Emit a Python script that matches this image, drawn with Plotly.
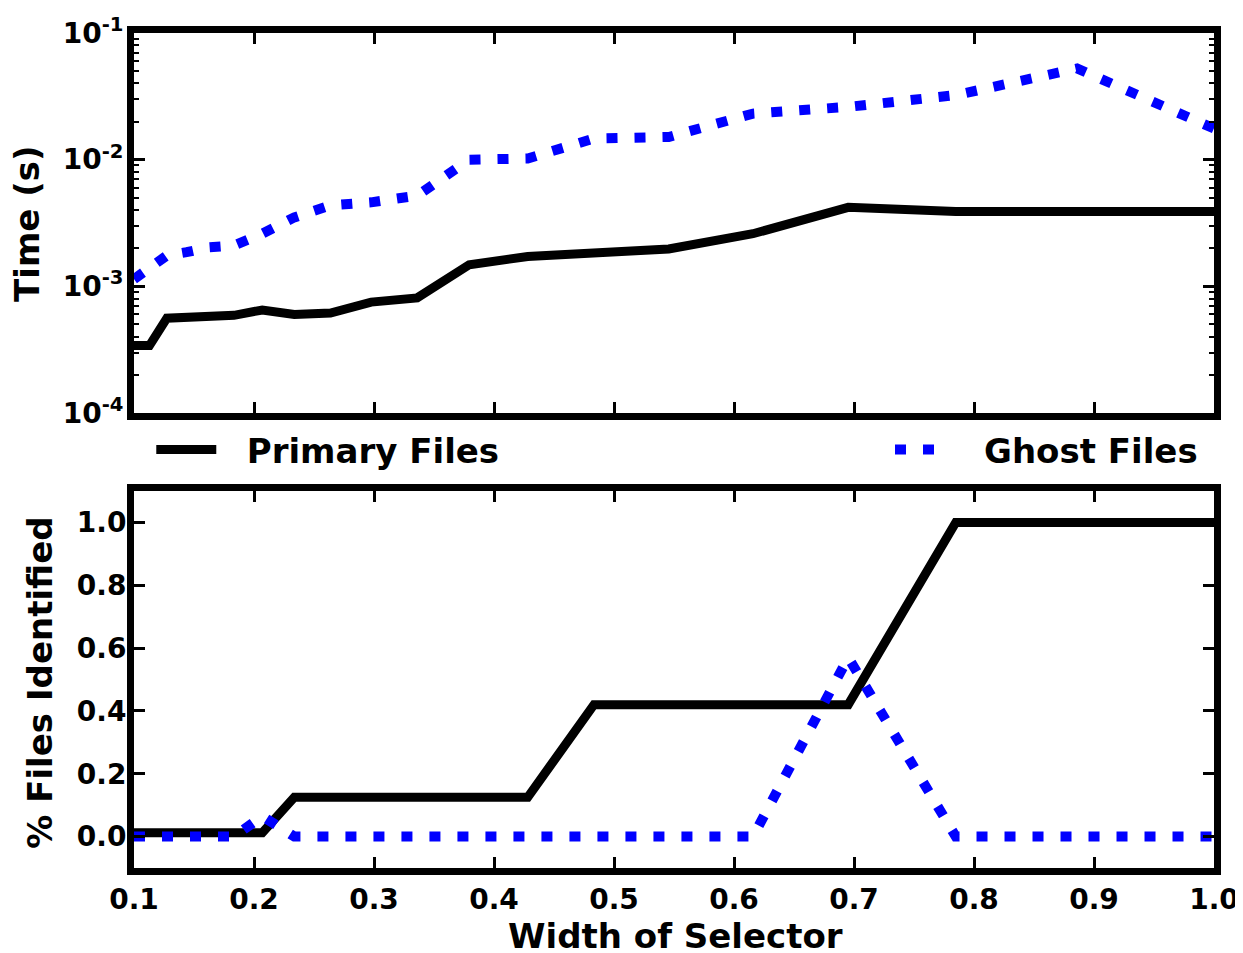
import plotly.graph_objects as go
from plotly.subplots import make_subplots

# Width of selector (x positions)
width = [0.1, 0.1129, 0.1274, 0.1438, 0.1624, 0.1833, 0.2069, 0.2336, 0.2637, 0.2976,
         0.336, 0.3793, 0.4281, 0.4833, 0.5456, 0.6158, 0.6952, 0.7848, 0.8859, 1.0]

# Top panel: time (s)
time_primary = [3.4e-4, 3.4e-4, 5.6e-4, 5.7e-4, 6.0e-4, 5.9e-4, 6.5e-4, 6.0e-4, 6.15e-4, 7.5e-4,
                8.1e-4, 1.48e-3, 1.72e-3, 1.85e-3, 1.97e-3, 2.6e-3, 4.2e-3, 3.9e-3, 3.9e-3, 3.9e-3]
time_ghost = [1.14e-3, 1.41e-3, 1.75e-3, 1.86e-3, 2.03e-3, 2.1e-3, 2.6e-3, 3.5e-3, 4.35e-3, 4.6e-3,
              5.2e-3, 1.0e-2, 1.02e-2, 1.47e-2, 1.51e-2, 2.31e-2, 2.61e-2, 3.23e-2, 5.25e-2, 1.76e-2]

# Bottom panel: fraction of files identified
ident_primary = [0.0125, 0.0125, 0.0125, 0.0125, 0.0125, 0.0125, 0.0125, 0.125, 0.125, 0.125,
                 0.125, 0.125, 0.125, 0.42, 0.42, 0.42, 0.42, 1.0, 1.0, 1.0]
ident_ghost = [0.0, 0.0, 0.0, 0.0, 0.0, 0.0, 0.065, 0.0, 0.0, 0.0,
               0.0, 0.0, 0.0, 0.0, 0.0, 0.0, 0.57, 0.0, 0.0, 0.0]

x_ticks = [0.1, 0.2, 0.3, 0.4, 0.5, 0.6, 0.7, 0.8, 0.9, 1.0]
y1_ticks = [1e-4, 1e-3, 1e-2, 1e-1]
y1_ticktext = ["10<sup>-4</sup>", "10<sup>-3</sup>", "10<sup>-2</sup>", "10<sup>-1</sup>"]
y2_ticks = [0.0, 0.2, 0.4, 0.6, 0.8, 1.0]

FONT = "DejaVu Sans"
BLACK_W = 9
BLUE_W = 10
BLUE_DASH = "11px,17px"

fig = make_subplots(rows=2, cols=1, shared_xaxes=False)

fig.add_trace(go.Scatter(x=width, y=time_primary, mode="lines", name="\u2002\u2005Primary Files",
                         line=dict(color="black", width=BLACK_W), legend="legend"), row=1, col=1)
fig.add_trace(go.Scatter(x=width, y=time_ghost, mode="lines", name="\u2003Ghost Files",
                         line=dict(color="#0000ff", width=BLUE_W, dash=BLUE_DASH), legend="legend2"), row=1, col=1)
fig.add_trace(go.Scatter(x=width, y=ident_primary, mode="lines", showlegend=False,
                         line=dict(color="black", width=BLACK_W)), row=2, col=1)
fig.add_trace(go.Scatter(x=width, y=ident_ghost, mode="lines", showlegend=False,
                         line=dict(color="#0000ff", width=BLUE_W, dash=BLUE_DASH)), row=2, col=1)

tickfont = dict(family=FONT, size=28, color="black", weight="bold")
titlefont = dict(family=FONT, size=34, color="black", weight="bold")
axis_common = dict(showline=True, linecolor="black", linewidth=7, mirror="ticks",
                   ticks="inside", ticklen=11, tickwidth=3, tickcolor="black",
                   showgrid=False, zeroline=False, tickfont=tickfont, automargin=False,
                   ticklabeloverflow="allow")

fig.update_xaxes(range=[0.1, 1.0], tickvals=x_ticks, showticklabels=False,
                 domain=[0, 1], **axis_common, row=1, col=1)
fig.update_xaxes(range=[0.1, 1.0], tickvals=x_ticks, tickformat=".1f",
                 domain=[0, 1], **axis_common, row=2, col=1)
fig.update_yaxes(type="log", range=[-4, -1], tickvals=y1_ticks, ticktext=y1_ticktext,
                 domain=[0.545, 1.0], ticklabelstandoff=-2,
                 minor=dict(ticks="inside", ticklen=5, tickwidth=1.5, tickcolor="black", showgrid=False,
                            dtick="D1"),
                 **axis_common, row=1, col=1)
fig.update_yaxes(range=[-0.1, 1.1], tickvals=y2_ticks, tickformat=".1f",
                 domain=[0, 0.4515], ticklabelstandoff=-5,
                 **axis_common, row=2, col=1)

# Axis titles
fig.add_annotation(text="Time (s)", xref="paper", yref="paper", x=-0.0991, y=0.7725,
                   xanchor="center", yanchor="middle", textangle=-90, showarrow=False, font=titlefont)
fig.add_annotation(text="% Files Identified", xref="paper", yref="paper", x=-0.087, y=0.222,
                   xanchor="center", yanchor="middle", textangle=-90, showarrow=False, font=titlefont)
fig.add_annotation(text="Width of Selector", xref="paper", yref="paper", x=0.501, y=-0.082,
                   xanchor="center", yanchor="middle", showarrow=False, font=titlefont)

legend_font = dict(family=FONT, size=34, color="black", weight="bold")
fig.update_layout(
    width=1235, height=945,
    margin=dict(l=126, r=29, t=25, b=85, autoexpand=False),
    paper_bgcolor="white", plot_bgcolor="white",
    font=dict(family=FONT, color="black"),
    legend=dict(x=0.016, y=0.5006, xanchor="left", yanchor="middle", font=legend_font,
                bgcolor="rgba(0,0,0,0)", itemwidth=60),
    legend2=dict(x=0.70, y=0.5006, xanchor="left", yanchor="middle", font=legend_font,
                 bgcolor="rgba(0,0,0,0)", itemwidth=50),
)

fig.write_html("out.html")
